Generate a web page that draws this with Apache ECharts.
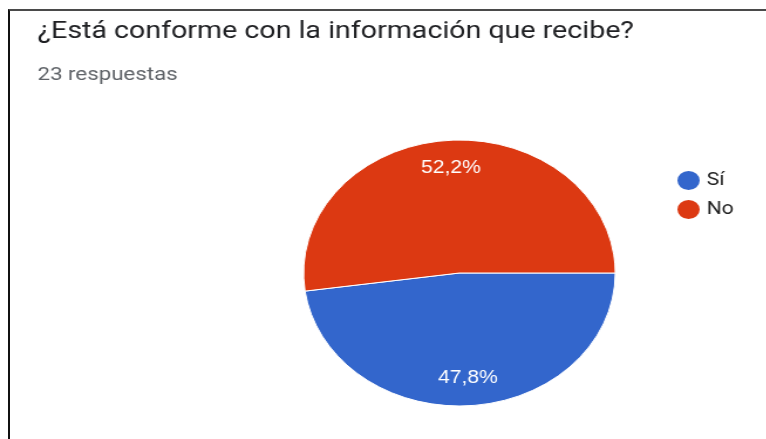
<!DOCTYPE html>
<html>
<head>
<meta charset="utf-8">
<script src="https://cdn.jsdelivr.net/npm/echarts@6/dist/echarts.min.js"></script>
<style>
html, body {
    margin: 0;
    padding: 0;
    background: #fff;
    overflow: hidden;
}
#wrap {
    position: relative;
    width: 766px;
    height: 439px;
}
/* the source screenshot is stretched sideways, so the chart is too */
#pie1 {
    position: absolute;
    left: 0;
    top: 0;
    width: 654px;
    height: 439px;
    transform: scaleX(1.172);
    transform-origin: 0 0;
}
#frame {
    position: absolute;
    left: 8px;
    top: 9px;
    right: 0;
    bottom: 0;
    border-top: 2px solid #4a4a4a;
    border-left: 2px solid #111;
    pointer-events: none;
}
</style>
</head>
<body>
<div id="wrap">
    <div id="pie1"></div>
    <div id="frame"></div>
</div>
<script>
const titleText = '¿Está conforme con la información que recibe?'
const subText = '23 respuestas'
const categories = ['Sí', 'No']
const counts = [11, 12]
const colorList = ['#3366cc', '#dc3912']

let pieData = categories.map((name, i) => ({ name: name, value: counts[i] }))

let myChart = echarts.init(document.getElementById('pie1'))
myChart.setOption({
    animation: false,
    color: colorList,
    title: [
        {
            text: titleText,
            left: 27,
            top: 15,
            textStyle: {
                fontFamily: 'Roboto',
                fontSize: 24.4,
                fontWeight: 'normal',
                color: '#202124'
            }
        },
        {
            text: subText,
            left: 27,
            top: 61,
            textStyle: {
                fontFamily: 'Roboto',
                fontSize: 19,
                fontWeight: 'normal',
                color: '#5f6368'
            }
        }
    ],
    legend: {
        orient: 'vertical',
        left: 571,
        top: 164,
        icon: 'circle',
        itemWidth: 21,
        itemHeight: 21,
        itemGap: 6,
        data: categories,
        textStyle: {
            fontFamily: 'Roboto',
            fontSize: 18,
            color: '#222'
        }
    },
    series: [
        {
            type: 'pie',
            center: [392, 273],
            radius: 133,
            startAngle: 0,
            clockwise: true,
            silent: true,
            data: pieData,
            itemStyle: {
                borderColor: '#fff',
                borderWidth: 1
            },
            label: { show: false },
            labelLine: { show: false }
        },
        {
            // label ring only, so the percentages sit near the rim
            type: 'pie',
            center: [392, 273],
            radius: [72, 133],
            startAngle: 0,
            clockwise: true,
            silent: true,
            data: pieData,
            itemStyle: { color: 'rgba(0,0,0,0)' },
            label: {
                show: true,
                position: 'inside',
                fontFamily: 'Liberation Sans',
                fontSize: 18,
                color: '#fff',
                formatter: (p) => p.percent.toFixed(1).replace('.', ',') + '%'
            },
            labelLine: { show: false }
        }
    ]
})
</script>
</body>
</html>
